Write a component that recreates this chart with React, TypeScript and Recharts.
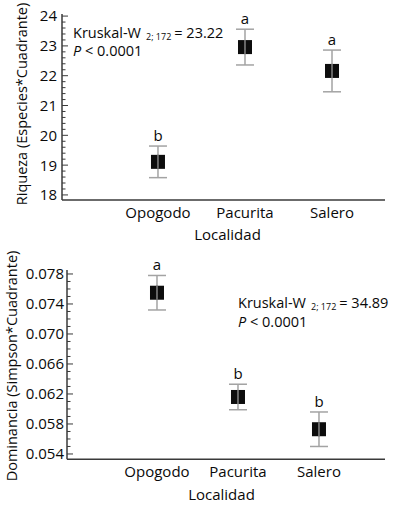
import React from 'react'
import { ScatterChart, Scatter, XAxis, YAxis, ErrorBar } from 'recharts'

const localidades = ['Opogodo', 'Pacurita', 'Salero']

// riqueza (especies*cuadrante)
const riquezaMedia = [19.11, 22.96, 22.16]
const riquezaError = [0.53, 0.6, 0.7]
const riquezaLetra = ['b', 'a', 'a']
const riquezaTicks = [18, 19, 20, 21, 22, 23, 24]

// dominancia (simpson*cuadrante)
const dominanciaMedia = [0.0755, 0.0616, 0.0573]
const dominanciaError = [0.0023, 0.0017, 0.0023]
const dominanciaLetra = ['a', 'b', 'b']
const dominanciaTicks = [0.054, 0.058, 0.062, 0.066, 0.07, 0.074, 0.078]

const FONT = '"Open Sans", sans-serif'
const AXIS = '#3a3a3a'
const GRIS = '#a3a3a3'
const TXT = '#0a0a0a'
const FS = 14.5
const FS_TICK = 15

function conMenores(majors: number[], n: number) {
  const out: number[] = []
  for (let i = 0; i < majors.length - 1; i++) {
    const paso = (majors[i + 1] - majors[i]) / n
    for (let j = 0; j < n; j++) out.push(+(majors[i] + paso * j).toFixed(6))
  }
  out.push(majors[majors.length - 1])
  return out
}

const makeTick = (majors: number[], fmt: (v: number) => string, gap: number) => (props: any) => {
  const { x, y, payload } = props
  const major = majors.some(m => Math.abs(m - payload.value) < 1e-9)
  return (
    <g>
      <line x1={x} x2={x + (major ? 6 : 3.5)} y1={y} y2={y} stroke={AXIS} strokeWidth={1} />
      {major && (
        <text x={x - gap} y={y} dy="0.36em" textAnchor="end" fill={TXT} fontSize={FS_TICK} fontFamily={FONT}>
          {fmt(payload.value)}
        </text>
      )}
    </g>
  )
}

const Cuadro = (props: any) => {
  const { cx, cy } = props
  return (
    <g>
      <rect x={cx - 7} y={cy - 7} width={14} height={14} fill="#0d0d0d" />
      <line x1={cx} x2={cx} y1={cy - 7} y2={cy + 7} stroke={GRIS} strokeWidth={1.2} />
    </g>
  )
}

const Letra = (props: any) => {
  const { cx, cy, payload } = props
  return (
    <text x={cx} y={cy - 5} textAnchor="middle" fill={TXT} fontSize={FS_TICK} fontFamily={FONT}>
      {payload.letra}
    </text>
  )
}

function Panel(props: {
  media: number[]
  error: number[]
  letra: string[]
  majors: number[]
  menores: number
  domY: [number, number]
  domX: [number, number]
  fmt: (v: number) => string
  alto: number
  margin: { top: number; right: number; bottom: number; left: number }
  anchoY: number
  gap: number
}) {
  const puntos = localidades.map((_, i) => ({ x: i + 1, y: props.media[i], err: props.error[i] }))
  const letras = localidades.map((_, i) => ({ x: i + 1, y: props.media[i] + props.error[i], letra: props.letra[i] }))
  return (
    <ScatterChart width={394} height={props.alto} margin={props.margin}>
      <XAxis
        type="number"
        dataKey="x"
        domain={props.domX}
        ticks={[1, 2, 3]}
        interval={0}
        tickFormatter={(v: number) => localidades[v - 1] ?? ''}
        tickLine={false}
        tickSize={0}
        tickMargin={7}
        height={30}
        stroke={AXIS}
        strokeWidth={1.5}
        tick={{ fill: TXT, fontSize: FS_TICK, fontFamily: FONT }}
      />
      <YAxis
        type="number"
        dataKey="y"
        domain={props.domY}
        ticks={conMenores(props.majors, props.menores)}
        interval={0}
        width={props.anchoY}
        tickLine={false}
        tickSize={0}
        tickMargin={0}
        stroke={AXIS}
        strokeWidth={1.5}
        tick={makeTick(props.majors, props.fmt, props.gap)}
      />
      <Scatter data={puntos} shape={<Cuadro />} isAnimationActive={false}>
        <ErrorBar dataKey="err" direction="y" width={9} stroke={GRIS} strokeWidth={1.5} />
      </Scatter>
      <Scatter data={letras} shape={<Letra />} isAnimationActive={false} />
    </ScatterChart>
  )
}

export default function App() {
  return (
    <div style={{ position: 'relative', width: 394, height: 525, background: '#fff', fontFamily: FONT }}>
      <style>{'body{margin:0}'}</style>
      <div style={{ position: 'absolute', left: 0, top: 0 }}>
        <Panel
          media={riquezaMedia}
          error={riquezaError}
          letra={riquezaLetra}
          majors={riquezaTicks}
          menores={5}
          domY={[17.83, 24.07]}
          domX={[-0.103, 3.609]}
          fmt={v => String(v)}
          alto={250}
          margin={{ top: 14, right: 9, bottom: 20, left: 0 }}
          anchoY={62}
          gap={5}
        />
      </div>
      <div style={{ position: 'absolute', left: 0, top: 250 }}>
        <Panel
          media={dominanciaMedia}
          error={dominanciaError}
          letra={dominanciaLetra}
          majors={dominanciaTicks}
          menores={4}
          domY={[0.05329, 0.07853]}
          domX={[-0.111, 3.815]}
          fmt={v => v.toFixed(3)}
          alto={275}
          margin={{ top: 20, right: 9, bottom: 35.7, left: 0 }}
          anchoY={67}
          gap={3}
        />
      </div>
      <svg
        width={394}
        height={525}
        style={{ position: 'absolute', left: 0, top: 0, pointerEvents: 'none' }}
        fontFamily={FONT}
        fontSize={FS}
        fill={TXT}
      >
        <text transform="translate(27,104) rotate(-90)" textAnchor="middle">Riqueza (Especies*Cuadrante)</text>
        <text transform="translate(17,366) rotate(-90)" textAnchor="middle">Dominancia (Simpson*Cuadrante)</text>
        <text x={227.5} y={240} textAnchor="middle" fontSize={FS_TICK}>Localidad</text>
        <text x={221.5} y={500} textAnchor="middle" fontSize={FS_TICK}>Localidad</text>

        <text x={73} y={38}>
          Kruskal-W
          <tspan fontSize={9} dx={5} dy={2}>2; 172</tspan>
          <tspan dx={3} dy={-2}>= 23.22</tspan>
        </text>
        <text x={73} y={56}>
          <tspan fontStyle="italic">P</tspan> &lt; 0.0001
        </text>

        <text x={238} y={308}>
          Kruskal-W
          <tspan fontSize={9} dx={5} dy={2}>2; 172</tspan>
          <tspan dx={3} dy={-2}>= 34.89</tspan>
        </text>
        <text x={238} y={327}>
          <tspan fontStyle="italic">P</tspan> &lt; 0.0001
        </text>
      </svg>
    </div>
  )
}
